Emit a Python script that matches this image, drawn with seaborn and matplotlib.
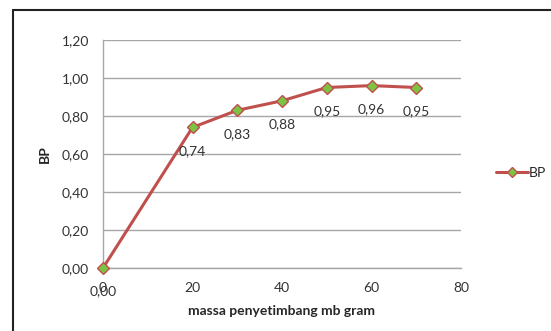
import matplotlib
matplotlib.use("Agg")
import matplotlib.pyplot as plt
import matplotlib.lines as mlines
import seaborn as sns
import pandas as pd

massa = [0, 20, 30, 40, 50, 60, 70]
bp = [0.00, 0.74, 0.83, 0.88, 0.95, 0.96, 0.95]
bp_labels = ["0,00", "0,74", "0,83", "0,88", "0,95", "0,96", "0,95"]
yticks = [0.0, 0.2, 0.4, 0.6, 0.8, 1.0, 1.2]
ytick_labels = ["0,00", "0,20", "0,40", "0,60", "0,80", "1,00", "1,20"]
xticks = [0, 20, 40, 60, 80]

sns.set_theme(style="white")
plt.rcParams['font.family'] = ['Lato', 'DejaVu Sans']

df = pd.DataFrame({"massa": massa, "BP": bp})

fig = plt.figure(figsize=(5.51, 3.31), dpi=100)
ax = fig.add_axes([103/551, 1-268/331, (461-103)/551, (268-40)/331])

red = "#C0504D"
green = "#7DC242"
sns.lineplot(data=df, x="massa", y="BP", ax=ax, color=red, linewidth=2.2,
             marker="D", markersize=6, markerfacecolor=green,
             markeredgecolor=red, markeredgewidth=1.0, zorder=3, clip_on=False)

ax.set_xlim(0, 80)
ax.set_ylim(0, 1.2)
ax.set_xticks(xticks)
ax.set_xticklabels([str(v) for v in xticks], fontsize=10, color="#333333")
ax.set_yticks(yticks)
ax.set_yticklabels(ytick_labels, fontsize=10, color="#333333")
ax.tick_params(axis="both", length=0, pad=10)
ax.yaxis.grid(True, color="#A6A6A6", linewidth=1.0)
ax.xaxis.grid(False)
ax.set_axisbelow(True)
for s in ["top", "right"]:
    ax.spines[s].set_visible(False)
ax.spines["left"].set_color("#A6A6A6")
ax.spines["bottom"].set_color("#A6A6A6")
ax.spines["left"].set_linewidth(1.0)
ax.spines["bottom"].set_linewidth(1.0)

for xv, yv, lab in zip(massa, bp, bp_labels):
    ax.annotate(lab, (xv, yv), xytext=(0, -17), textcoords="offset points",
                ha="center", va="center", fontsize=10, color="#333333")

ax.set_xlabel("massa penyetimbang mb gram", fontsize=10, fontweight="bold", labelpad=8)
ax.set_ylabel("BP", fontsize=10, fontweight="bold", labelpad=8)

handle = mlines.Line2D([], [], color=red, linewidth=2.2, marker="D", markersize=5.5,
                       markerfacecolor=green, markeredgecolor=red)
fig.legend(handles=[handle], labels=["BP"], loc="center left",
           bbox_to_anchor=(490/551, 1-173/331), frameon=False, fontsize=10,
           handlelength=2.3, handletextpad=0.1, borderaxespad=0)

# outer chart frame
fig.add_artist(mlines.Line2D([13/551, 1.0], [1-10/331, 1-10/331], transform=fig.transFigure,
                             color="#222222", linewidth=1.5))
fig.add_artist(mlines.Line2D([13/551, 13/551], [1-10/331, 0.0], transform=fig.transFigure,
                             color="#222222", linewidth=1.5))

fig.savefig("out.png", dpi=100)
